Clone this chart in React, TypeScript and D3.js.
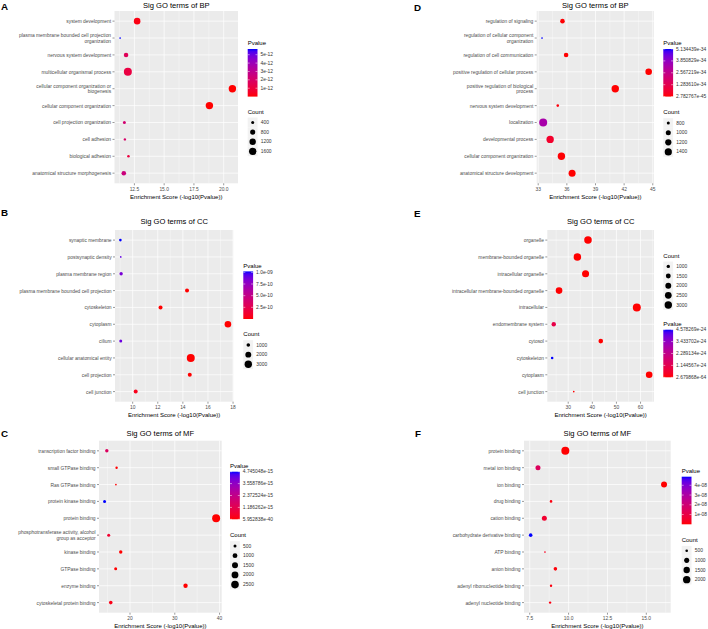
import React from "react";
import * as d3 from "d3";

// ---------- Panel A: Sig GO terms of BP (left) ----------
const termsA = [
  "system development",
  "plasma membrane bounded cell projection\norganization",
  "nervous system development",
  "multicellular organismal process",
  "cellular component organization or\nbiogenesis",
  "cellular component organization",
  "cell projection organization",
  "cell adhesion",
  "biological adhesion",
  "anatomical structure morphogenesis",
];
const scoresA = [12.73, 11.3, 11.8, 11.95, 20.73, 18.8, 11.66, 11.7, 12.0, 11.61];
const countsA = [1260, 332, 657, 1878, 1600, 1600, 400, 352, 363, 657];
const pvaluesA = [1.9e-13, 5.68e-12, 1.6e-12, 1.1e-12, 1.9e-21, 1.6e-19, 2.2e-12, 2.0e-12, 1.0e-12, 2.5e-12];
const xBreaksA = [12.5, 15, 17.5, 20];
const xLabelsA = ["12.5", "15.0", "17.5", "20.0"];
const countBreaksA = [400, 800, 1200, 1600];
const pBreaksA = [1e-12, 2e-12, 3e-12, 4e-12, 5e-12];
const pLabelsA = ["1e-12", "2e-12", "3e-12", "4e-12", "5e-12"];

// ---------- Panel B: Sig GO terms of CC (left) ----------
const termsB = [
  "synaptic membrane",
  "postsynaptic density",
  "plasma membrane region",
  "plasma membrane bounded cell projection",
  "cytoskeleton",
  "cytoplasm",
  "cilium",
  "cellular anatomical entity",
  "cell projection",
  "cell junction",
];
const scoresB = [9.02, 9.05, 9.08, 14.33, 12.22, 17.59, 9.05, 14.63, 14.55, 10.24];
const countsB = [805, 747, 950, 1118, 1118, 2412, 868, 3494, 1118, 1118];
const pvaluesB = [1.02e-9, 9.1e-10, 8.5e-10, 4.7e-15, 6.0e-13, 2.6e-18, 8.9e-10, 2.3e-15, 2.8e-15, 5.8e-11];
const xBreaksB = [10, 12, 14, 16, 18];
const xLabelsB = ["10", "12", "14", "16", "18"];
const countBreaksB = [1000, 2000, 3000];
const pBreaksB = [2.5e-10, 5e-10, 7.5e-10, 1e-9];
const pLabelsB = ["2.5e-10", "5.0e-10", "7.5e-10", "1.0e-09"];

// ---------- Panel C: Sig GO terms of MF (left) ----------
const termsC = [
  "transcription factor binding",
  "small GTPase binding",
  "Ras GTPase binding",
  "protein kinase binding",
  "protein binding",
  "phosphotransferase activity, alcohol\ngroup as acceptor",
  "kinase binding",
  "GTPase binding",
  "enzyme binding",
  "cytoskeletal protein binding",
];
const scoresC = [14.82, 17.0, 16.85, 14.32, 39.23, 15.24, 17.93, 16.8, 32.4, 15.7];
const countsC = [572, 425, 394, 500, 2795, 500, 572, 500, 838, 615];
const pvaluesC = [1.5e-15, 1.0e-17, 1.4e-17, 4.745048e-15, 5.952838e-40, 5.8e-16, 1.2e-18, 1.6e-17, 4.0e-33, 2.0e-16];
const xBreaksC = [20, 30, 40];
const xLabelsC = ["20", "30", "40"];
const countBreaksC = [500, 1000, 1500, 2000, 2500];
const pBreaksC = [5.952838e-40, 1.186262e-15, 2.372524e-15, 3.558786e-15, 4.745048e-15];
const pLabelsC = ["5.952838e-40", "1.186262e-15", "2.372524e-15", "3.558786e-15", "4.745048e-15"];

// ---------- Panel D: Sig GO terms of BP (right) ----------
const termsD = [
  "regulation of signaling",
  "regulation of cellular component\norganization",
  "regulation of cell communication",
  "positive regulation of cellular process",
  "positive regulation of biological\nprocess",
  "nervous system development",
  "localization",
  "developmental process",
  "cellular component organization",
  "anatomical structure development",
];
const scoresD = [35.54, 33.4, 35.92, 44.57, 41.07, 35.05, 33.52, 34.25, 35.43, 36.55];
const countsD = [939, 763, 939, 1266, 1450, 780, 1600, 1450, 1450, 1358];
const pvaluesD = [2.9e-36, 5.134439e-34, 1.2e-36, 2.782767e-45, 8.5e-42, 8.9e-36, 3.3e-34, 5.6e-35, 3.7e-36, 2.8e-37];
const xBreaksD = [33, 36, 39, 42, 45];
const xLabelsD = ["33", "36", "39", "42", "45"];
const countBreaksD = [800, 1000, 1200, 1400];
const pBreaksD = [2.782767e-45, 1.28361e-34, 2.567219e-34, 3.850829e-34, 5.134439e-34];
const pLabelsD = ["2.782767e-45", "1.283610e-34", "2.567219e-34", "3.850829e-34", "5.134439e-34"];

// ---------- Panel E: Sig GO terms of CC (right) ----------
const termsE = [
  "organelle",
  "membrane-bounded organelle",
  "intracellular organelle",
  "intracellular membrane-bounded organelle",
  "intracellular",
  "endomembrane system",
  "cytosol",
  "cytoskeleton",
  "cytoplasm",
  "cell junction",
];
const scoresE = [38.2, 33.8, 37.2, 26.2, 58.45, 24.0, 43.5, 23.34, 63.57, 32.3];
const countsE = [3100, 3050, 2750, 2450, 3480, 1298, 1373, 858, 2450, 802];
const pvaluesE = [6e-39, 1.6e-34, 6e-38, 6e-27, 3.5e-59, 1.0e-24, 3e-44, 4.578269e-24, 2.679868e-64, 5e-33];
const xBreaksE = [30, 40, 50, 60];
const xLabelsE = ["30", "40", "50", "60"];
const countBreaksE = [1000, 1500, 2000, 2500, 3000];
const pBreaksE = [2.679868e-64, 1.144567e-24, 2.289134e-24, 3.433702e-24, 4.578269e-24];
const pLabelsE = ["2.679868e-64", "1.144567e-24", "2.289134e-24", "3.433702e-24", "4.578269e-24"];

// ---------- Panel F: Sig GO terms of MF (right) ----------
const termsF = [
  "protein binding",
  "metal ion binding",
  "ion binding",
  "drug binding",
  "cation binding",
  "carbohydrate derivative binding",
  "ATP binding",
  "anion binding",
  "adenyl ribonucleotide binding",
  "adenyl nucleotide binding",
];
const scoresF = [9.79, 8.03, 16.14, 8.87, 8.44, 7.56, 8.48, 9.15, 8.87, 8.81];
const countsF = [2338, 979, 1338, 500, 979, 634, 461, 634, 485, 485];
const pvaluesF = [1.6e-10, 1.5e-8, 7e-17, 1.3e-9, 6e-9, 4.88e-8, 3.3e-9, 7e-10, 1.3e-9, 1.5e-9];
const xBreaksF = [7.5, 10, 12.5, 15];
const xLabelsF = ["7.5", "10.0", "12.5", "15.0"];
const countBreaksF = [500, 1000, 1500, 2000];
const pBreaksF = [1e-8, 2e-8, 3e-8, 4e-8];
const pLabelsF = ["1e-08", "2e-08", "3e-08", "4e-08"];

const FONT = "'Liberation Sans', Arial, Helvetica, sans-serif";
const ramp = d3.interpolateLab("#FF0000", "#0000FF");

type Spec = {
  id: string;
  letter: string;
  letterX: number;
  letterY: number;
  title: string;
  titleY: number;
  terms: string[];
  scores: number[];
  counts: number[];
  pvalues: number[];
  xBreaks: number[];
  xLabels: string[];
  countBreaks: number[];
  pBreaks: number[];
  pLabels: string[];
  box: { x0: number; x1: number; y0: number; y1: number };
  lx: number;
  pvY: number;
  countY: number;
};

const specs: Spec[] = [
  {
    id: "A", letter: "A", letterX: 1, letterY: 10.3, title: "Sig GO terms of BP", titleY: 5.6,
    terms: termsA, scores: scoresA, counts: countsA, pvalues: pvaluesA,
    xBreaks: xBreaksA, xLabels: xLabelsA, countBreaks: countBreaksA, pBreaks: pBreaksA, pLabels: pLabelsA,
    box: { x0: 114.5, x1: 238, y0: 11, y1: 183.3 }, lx: 247.7, pvY: 43.3, countY: 111.7,
  },
  {
    id: "B", letter: "B", letterX: 1, letterY: 215.8, title: "Sig GO terms of CC", titleY: 221.7,
    terms: termsB, scores: scoresB, counts: countsB, pvalues: pvaluesB,
    xBreaks: xBreaksB, xLabels: xLabelsB, countBreaks: countBreaksB, pBreaks: pBreaksB, pLabels: pLabelsB,
    box: { x0: 115, x1: 233.3, y0: 230, y1: 401.7 }, lx: 243.3, pvY: 265.7, countY: 334.3,
  },
  {
    id: "C", letter: "C", letterX: 1, letterY: 436.8, title: "Sig GO terms of MF", titleY: 433.3,
    terms: termsC, scores: scoresC, counts: countsC, pvalues: pvaluesC,
    xBreaks: xBreaksC, xLabels: xLabelsC, countBreaks: countBreaksC, pBreaks: pBreaksC, pLabels: pLabelsC,
    box: { x0: 99, x1: 221.7, y0: 440.7, y1: 612.7 }, lx: 230, pvY: 466, countY: 535.3,
  },
  {
    id: "D", letter: "D", letterX: 414, letterY: 10.5, title: "Sig GO terms of BP", titleY: 5.6,
    terms: termsD, scores: scoresD, counts: countsD, pvalues: pvaluesD,
    xBreaks: xBreaksD, xLabels: xLabelsD, countBreaks: countBreaksD, pBreaks: pBreaksD, pLabels: pLabelsD,
    box: { x0: 536.7, x1: 654, y0: 11, y1: 183.3 }, lx: 663.3, pvY: 43.3, countY: 112.3,
  },
  {
    id: "E", letter: "E", letterX: 414, letterY: 216.6, title: "Sig GO terms of CC", titleY: 221.7,
    terms: termsE, scores: scoresE, counts: countsE, pvalues: pvaluesE,
    xBreaks: xBreaksE, xLabels: xLabelsE, countBreaks: countBreaksE, pBreaks: pBreaksE, pLabels: pLabelsE,
    box: { x0: 547.3, x1: 654, y0: 230, y1: 401.7 }, lx: 663.3, pvY: 324, countY: 255.7,
  },
  {
    id: "F", letter: "F", letterX: 415, letterY: 436.8, title: "Sig GO terms of MF", titleY: 433.3,
    terms: termsF, scores: scoresF, counts: countsF, pvalues: pvaluesF,
    xBreaks: xBreaksF, xLabels: xLabelsF, countBreaks: countBreaksF, pBreaks: pBreaksF, pLabels: pLabelsF,
    box: { x0: 524, x1: 670.7, y0: 440.7, y1: 612.7 }, lx: 681.7, pvY: 471, countY: 540,
  },
];

const AXIS_TEXT = "#4D4D4D";
const LABEL_FS = 4.9;
const BAR_W = 9.8;
const BAR_H = 47.6;
const KEY_STEP = 9.65;

function Panel({ s }: { s: Spec }) {
  const { box } = s;
  const [xmin, xmax] = d3.extent(s.scores) as [number, number];
  const pad = (xmax - xmin) * 0.05;
  const x = d3.scaleLinear().domain([xmin - pad, xmax + pad]).range([box.x0, box.x1]);
  const y = d3.scalePoint<string>().domain(s.terms).range([box.y0, box.y1]).padding(0.6);
  const pExt = d3.extent(s.pvalues) as [number, number];
  const pNorm = d3.scaleLinear().domain(pExt).range([0, 1]).clamp(true);
  const color = (p: number) => ramp(pNorm(p));
  const [cmin, cmax] = d3.extent(s.counts) as [number, number];
  const rScale = (c: number) =>
    0.84 + 3.16 * Math.sqrt(Math.max(0, Math.min(1, (c - cmin) / (cmax - cmin))));

  const step = s.xBreaks[1] - s.xBreaks[0];
  const [d0, d1] = x.domain();
  const minors: number[] = [];
  for (let v = s.xBreaks[0] - step / 2; v <= d1; v += step) {
    if (v >= d0) minors.push(v);
  }

  // legend geometry
  const barTop = s.pvY + 5.7;
  const barBottom = barTop + BAR_H;
  const barY = d3.scaleLinear().domain([0, 1]).range([barBottom, barTop]);
  const gradId = `grad-${s.id}`;
  const stops = d3.range(0, 21).map((i) => i / 20);

  const cx = (box.x0 + box.x1) / 2;

  return (
    <g>
      <text x={s.letterX} y={s.letterY} fontSize={9.8} fontWeight="bold" fontFamily={FONT} fill="#000">
        {s.letter}
      </text>
      <text x={cx} y={s.titleY} fontSize={7.6} fontFamily={FONT} textAnchor="middle" dominantBaseline="central" fill="#000">
        {s.title}
      </text>
      <rect x={box.x0} y={box.y0} width={box.x1 - box.x0} height={box.y1 - box.y0} fill="#EBEBEB" />
      {minors.map((v, i) => (
        <line key={`mn${i}`} x1={x(v)} x2={x(v)} y1={box.y0} y2={box.y1} stroke="#fff" strokeWidth={0.35} />
      ))}
      {s.xBreaks.map((v, i) => (
        <line key={`mj${i}`} x1={x(v)} x2={x(v)} y1={box.y0} y2={box.y1} stroke="#fff" strokeWidth={0.7} />
      ))}
      {s.terms.map((t, i) => (
        <line key={`h${i}`} x1={box.x0} x2={box.x1} y1={y(t)} y2={y(t)} stroke="#fff" strokeWidth={0.7} />
      ))}
      {s.terms.map((t, i) => (
        <circle key={`pt${i}`} cx={x(s.scores[i])} cy={y(t)} r={rScale(s.counts[i])} fill={color(s.pvalues[i])} />
      ))}
      {/* y axis ticks and labels */}
      {s.terms.map((t, i) => {
        const lines = t.split("\n");
        const yy = y(t) as number;
        const lh = 5.3;
        const start = yy - ((lines.length - 1) * lh) / 2;
        return (
          <g key={`yl${i}`}>
            <line x1={box.x0 - 2} x2={box.x0} y1={yy} y2={yy} stroke="#333" strokeWidth={0.5} />
            <text fontSize={LABEL_FS} fontFamily={FONT} fill={AXIS_TEXT} textAnchor="end" dominantBaseline="central">
              {lines.map((ln, j) => (
                <tspan key={j} x={box.x0 - 3.4} y={start + j * lh}>
                  {ln}
                </tspan>
              ))}
            </text>
          </g>
        );
      })}
      {/* x axis ticks and labels */}
      {s.xBreaks.map((v, i) => (
        <g key={`xt${i}`}>
          <line x1={x(v)} x2={x(v)} y1={box.y1} y2={box.y1 + 2} stroke="#333" strokeWidth={0.5} />
          <text x={x(v)} y={box.y1 + 5.8} fontSize={LABEL_FS} fontFamily={FONT} fill={AXIS_TEXT} textAnchor="middle" dominantBaseline="central">
            {s.xLabels[i]}
          </text>
        </g>
      ))}
      <text x={cx} y={box.y1 + 13.4} fontSize={6} fontFamily={FONT} fill="#000" textAnchor="middle" dominantBaseline="central">
        Enrichment Score (-log10(Pvalue))
      </text>

      {/* Pvalue legend */}
      <defs>
        <linearGradient id={gradId} x1="0" y1="1" x2="0" y2="0">
          {stops.map((t, i) => (
            <stop key={i} offset={t} stopColor={ramp(t)} />
          ))}
        </linearGradient>
      </defs>
      <text x={s.lx} y={s.pvY} fontSize={6} fontFamily={FONT} fill="#000" dominantBaseline="central">
        Pvalue
      </text>
      <rect x={s.lx} y={barTop} width={BAR_W} height={BAR_H} fill={`url(#${gradId})`} />
      {s.pBreaks.map((b, i) => {
        const yy = barY(pNorm(b));
        return (
          <g key={`pb${i}`}>
            <line x1={s.lx} x2={s.lx + 2} y1={yy} y2={yy} stroke="#fff" strokeWidth={0.5} />
            <line x1={s.lx + BAR_W - 2} x2={s.lx + BAR_W} y1={yy} y2={yy} stroke="#fff" strokeWidth={0.5} />
            <text x={s.lx + BAR_W + 3} y={yy} fontSize={LABEL_FS} fontFamily={FONT} fill="#333" dominantBaseline="central">
              {s.pLabels[i]}
            </text>
          </g>
        );
      })}

      {/* Count legend */}
      <text x={s.lx} y={s.countY} fontSize={6} fontFamily={FONT} fill="#000" dominantBaseline="central">
        Count
      </text>
      {s.countBreaks.map((c, i) => {
        const ky = s.countY + 10.7 + i * KEY_STEP;
        return (
          <g key={`cb${i}`}>
            <rect x={s.lx} y={ky - KEY_STEP / 2} width={BAR_W} height={KEY_STEP} fill="#F2F2F2" />
            <circle cx={s.lx + 5} cy={ky} r={rScale(c)} fill="#000" />
            <text x={s.lx + 13} y={ky} fontSize={LABEL_FS} fontFamily={FONT} fill="#333" dominantBaseline="central">
              {c}
            </text>
          </g>
        );
      })}
    </g>
  );
}

export default function App() {
  return (
    <svg
      width={708}
      height={629}
      viewBox="0 0 708 629"
      style={{ position: "absolute", left: 0, top: 0, background: "#fff", display: "block" }}
    >
      <rect x={0} y={0} width={708} height={629} fill="#fff" />
      {specs.map((s) => (
        <Panel key={s.id} s={s} />
      ))}
    </svg>
  );
}
